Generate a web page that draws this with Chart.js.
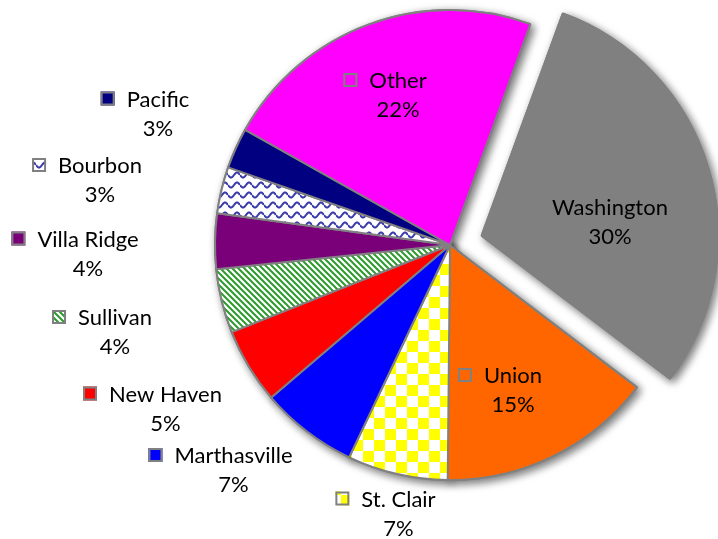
<!DOCTYPE html>
<html><head><meta charset="utf-8">
<script src="https://cdn.jsdelivr.net/npm/chart.js@4/dist/chart.umd.min.js"></script>
<style>html,body{margin:0;padding:0;background:#fff}#wrap{width:718px;height:539px;position:relative}</style>
</head><body><div id="wrap"><canvas id="c"></canvas></div>
<script>
// ---- data ----
const categories = ['Washington','Union','St. Clair','Marthasville','New Haven','Sullivan','Villa Ridge','Bourbon','Pacific','Other'];
const shares = [29.8, 14.8, 6.9, 6.7, 5.2, 4.4, 3.8, 3.2, 2.8, 22.4];
const percentLabels = ['30%','15%','7%','7%','5%','4%','4%','3%','3%','22%'];

// ---- styling / layout ----
const FONT = '22px Lato';
const labelLayout = [ // [name centre x, name baseline y, show key]
  [610, 215, false],
  [513, 383, true],
  [398.5, 506.5, true],
  [233.5, 463, true],
  [165.5, 401.5, true],
  [115, 325, true],
  [88, 246.5, true],
  [100, 173, true],
  [158, 106.5, true],
  [398, 88, true]
];

function mk(w, h, draw) {
  const c = document.createElement('canvas'); c.width = w; c.height = h;
  const g = c.getContext('2d'); g.fillStyle = '#fff'; g.fillRect(0, 0, w, h); draw(g);
  return document.createElement('canvas').getContext('2d').createPattern(c, 'repeat');
}
const checker = mk(22, 22, g => { g.fillStyle = '#FFFF00'; g.fillRect(0, 0, 11, 11); g.fillRect(11, 11, 11, 11); });
const stripes = mk(6, 6, g => {
  g.strokeStyle = '#2E9A2E'; g.lineWidth = 2;
  g.beginPath(); g.moveTo(-1, -1); g.lineTo(7, 7); g.moveTo(-7, -1); g.lineTo(1, 7); g.moveTo(5, -1); g.lineTo(13, 7); g.stroke();
});
const waves = mk(12, 10, g => {
  g.strokeStyle = '#3A3AA8'; g.lineWidth = 2; g.beginPath();
  for (let x = 0; x <= 12; x += 0.5) { const y = 5 + 2.5 * Math.sin(x / 12 * Math.PI * 2); if (x === 0) g.moveTo(x, y); else g.lineTo(x, y); }
  g.stroke();
});
const colors = ['#808080', '#FF6600', checker, '#0000FF', '#FF0000', stripes, '#7A007A', waves, '#000080', '#FF00FF'];
const offsets = [132, 0, 0, 0, 0, 0, 0, 0, 0, 0];

const shadowPlugin = {
  id: 'shadowPass',
  beforeDatasetsDraw(chart) {
    const ctx = chart.ctx; const arcs = chart.getDatasetMeta(0).data;
    ctx.save();
    ctx.shadowColor = 'rgba(0,0,0,0.55)'; ctx.shadowBlur = 9; ctx.shadowOffsetX = 3; ctx.shadowOffsetY = 3;
    arcs.forEach(a => a.draw(ctx));
    ctx.restore();
  }
};
const labelPlugin = {
  id: 'sliceLabels',
  afterDatasetsDraw(chart) {
    const ctx = chart.ctx; ctx.save();
    ctx.font = FONT; ctx.fillStyle = '#000'; ctx.textBaseline = 'alphabetic';
    categories.forEach((name, i) => {
      const [cx, by, key] = labelLayout[i];
      const w = ctx.measureText(name).width;
      ctx.textAlign = 'center';
      ctx.fillText(name, cx, by);
      ctx.fillText(percentLabels[i], cx, by + 29);
      if (key) {
        const kx = cx - w / 2 - 12 - 14, ky = by - 15;
        ctx.fillStyle = colors[i]; ctx.fillRect(kx, ky, 14, 14);
        ctx.strokeStyle = '#808080'; ctx.lineWidth = 2; ctx.strokeRect(kx + 1, ky + 1, 12, 12);
        ctx.fillStyle = '#000';
      }
    });
    ctx.restore();
  }
};

new Chart(document.getElementById('c'), {
  type: 'pie',
  data: {
    labels: categories,
    datasets: [{ data: shares, backgroundColor: colors, borderColor: '#808080', borderWidth: 2, offset: offsets }]
  },
  options: {
    responsive: true, maintainAspectRatio: false, animation: false,
    rotation: 20, radius: 235,
    layout: { padding: { left: 182, right: 0, top: 0, bottom: 49 } },
    plugins: { legend: { display: false }, tooltip: { enabled: false } }
  },
  plugins: [shadowPlugin, labelPlugin]
});
</script></body></html>
